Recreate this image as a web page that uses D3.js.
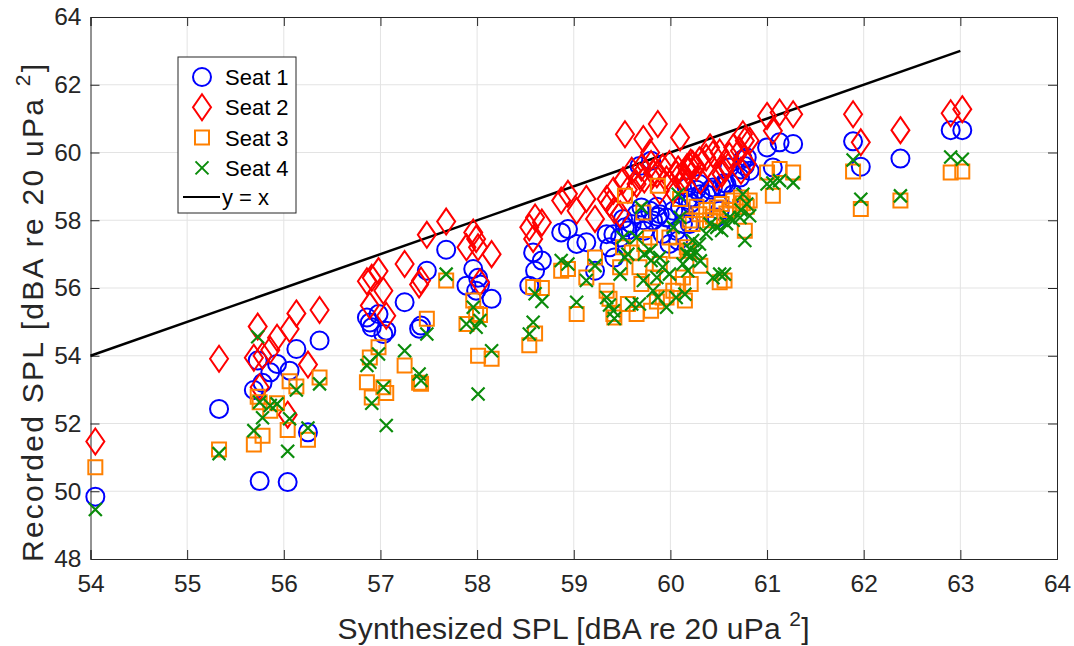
<!DOCTYPE html>
<html>
<head>
<meta charset="utf-8">
<script src="https://cdn.jsdelivr.net/npm/d3@7"></script>
<style>
  body { margin: 0; background: #fff; }
  text { font-family: "Liberation Sans", Arial, sans-serif; }
</style>
</head>
<body>
<svg id="chart" width="1074" height="646"></svg>
<script>
// synthesized SPL, one value per stimulus
var synthX = [
  54.05, 55.33, 55.69, 55.73, 55.75, 55.78, 55.86, 55.93, 56.04, 56.06, 56.13, 56.25, 56.37,
  56.86, 56.89, 56.91, 56.98, 57.03, 57.06, 57.25, 57.40, 57.42, 57.48, 57.68,
  57.89, 57.96, 57.99, 58.01, 58.03, 58.15, 58.54, 58.58, 58.60, 58.67, 58.87, 58.94,
  59.03, 59.13, 59.22, 59.34, 59.37, 59.41, 59.42, 59.48, 59.51, 59.53, 59.56, 59.60,
  59.65, 59.68, 59.70, 59.72, 59.73, 59.79, 59.80, 59.82, 59.86, 59.87, 59.89, 59.92,
  59.96, 59.99, 60.03, 60.06, 60.08, 60.10, 60.13, 60.15, 60.17, 60.18, 60.20, 60.21,
  60.23, 60.27, 60.30, 60.31, 60.37, 60.41, 60.44, 60.48, 60.51, 60.53, 60.56, 60.58,
  60.61, 60.65, 60.72, 60.73, 60.75, 60.77, 60.79, 60.82,
  61.00, 61.06, 61.13, 61.27, 61.89, 61.97, 62.38, 62.90, 63.02
];

var seat1 = [
  49.84, 52.43, 52.99, 53.86, 50.30, 53.20, 53.51, 53.76, 50.27, 53.56, 54.20, 51.74, 54.45,
  55.13, 54.98, 54.84, 55.23, 54.64, 54.74, 55.58, 54.80, 54.89, 56.51, 57.13,
  56.07, 56.56, 55.92, 56.30, 56.10, 55.68, 56.07, 57.05, 56.51, 56.81, 57.64, 57.74,
  57.30, 57.35, 56.51, 57.59, 57.20, 57.59, 56.90, 57.49, 58.04, 57.79, 57.70, 57.89,
  58.18, 59.60, 58.38, 58.00, 57.69, 58.28, 59.76, 57.99, 58.40, 58.10, 58.18, 57.59,
  58.08, 57.30, 58.28, 57.69, 57.40, 58.38, 57.89, 58.18, 58.97, 58.60, 57.89, 58.50,
  58.67, 58.90, 59.07, 58.77, 58.77, 58.90, 58.97, 58.08, 58.28, 59.00, 59.10, 59.07,
  59.56, 58.77, 59.26, 59.50, 59.80, 59.60, 59.85, 59.46,
  60.15, 59.56, 60.30, 60.25, 60.33, 59.58, 59.82, 60.66, 60.66
];

var seat2 = [
  51.47, 53.91, 53.94, 54.86, 53.07, 54.00, 54.17, 54.53, 52.26, 54.79, 55.25, 53.74, 55.35,
  56.20, 55.48, 56.30, 56.50, 55.92, 55.18, 56.71, 56.10, 56.22, 57.57, 57.96,
  57.20, 57.64, 57.45, 57.20, 56.17, 57.00, 57.79, 57.45, 58.08, 57.93, 58.58, 58.78,
  58.28, 58.63, 58.04, 58.63, 58.50, 58.87, 58.30, 58.18, 59.17, 60.54, 58.90, 59.46,
  59.07, 59.30, 59.56, 60.40, 59.20, 60.00, 59.66, 59.40, 59.36, 60.84, 58.87, 59.56,
  59.20, 59.66, 58.87, 59.36, 59.50, 60.44, 59.17, 59.30, 59.56, 59.45, 59.60, 59.70,
  59.66, 59.56, 59.76, 59.17, 59.85, 60.15, 59.95, 59.26, 60.00, 59.36, 59.50, 59.66,
  59.90, 60.15, 60.05, 59.46, 60.54, 60.35, 59.66, 60.35,
  61.08, 60.64, 61.18, 61.13, 61.13, 60.30, 60.66, 61.16, 61.28
];

var seat3 = [
  50.71, 51.23, 51.38, 52.79, 52.63, 51.64, 52.38, 52.60, 51.81, 53.25, 53.09, 51.52, 53.36,
  53.22, 53.95, 52.77, 54.25, 53.07, 52.90, 53.71, 53.20, 53.17, 55.09, 56.22,
  54.94, 55.63, 55.23, 54.00, 55.20, 53.91, 54.31, 56.03, 54.66, 56.00, 56.51, 56.56,
  55.23, 56.31, 56.90, 55.92, 55.68, 55.23, 55.13, 56.61, 57.20, 58.72, 55.53, 57.05,
  55.23, 56.61, 56.12, 58.23, 57.30, 57.49, 55.33, 56.31, 55.60, 59.02, 56.71, 55.72,
  55.72, 57.49, 55.92, 57.10, 56.12, 58.63, 56.31, 55.63, 57.20, 57.10, 57.99, 56.12,
  57.89, 58.40, 58.18, 56.66, 58.30, 58.00, 58.10, 58.38, 56.17, 58.48, 56.22, 58.20,
  58.30, 58.58, 58.40, 58.67, 58.50, 57.69, 58.40, 58.58,
  59.41, 58.72, 59.51, 59.41, 59.44, 58.33, 58.58, 59.41, 59.44
];

var seat4 = [
  49.46, 51.11, 51.79, 54.56, 52.63, 52.17, 52.53, 52.58, 51.18, 52.14, 52.99, 51.87, 53.17,
  53.71, 53.81, 52.60, 54.05, 53.07, 51.94, 54.15, 53.46, 53.27, 54.64, 56.41,
  54.94, 55.43, 54.84, 52.87, 55.04, 54.15, 54.64, 54.99, 55.83, 55.60, 56.81, 56.71,
  55.58, 56.22, 56.66, 55.72, 55.50, 55.33, 55.10, 56.41, 57.49, 56.90, 57.00, 55.53,
  57.49, 55.53, 58.38, 56.22, 57.00, 57.10, 56.81, 55.92, 56.31, 55.72, 56.90, 56.61,
  55.43, 56.41, 57.79, 55.72, 58.77, 58.08, 56.71, 55.82, 57.00, 56.51, 57.15, 56.95,
  57.40, 57.05, 57.30, 56.80, 57.60, 57.89, 56.30, 57.79, 56.41, 57.70, 56.41, 57.90,
  58.08, 58.00, 58.08, 58.30, 58.77, 57.40, 58.48, 58.13,
  59.07, 59.10, 59.17, 59.11, 59.78, 58.62, 58.72, 59.87, 59.80
];

var xTicks = [54, 55, 56, 57, 58, 59, 60, 61, 62, 63, 64];
var yTicks = [48, 50, 52, 54, 56, 58, 60, 62, 64];
var refLine = [54, 63];

var seatNames = ["Seat 1", "Seat 2", "Seat 3", "Seat 4"];
var seatColors = ["#0000ff", "#ff0000", "#ff8000", "#0b8c0b"];
var seatShapes = ["circle", "diamond", "square", "cross"];

function main() {
  var margin = { top: 17, right: 17, bottom: 87, left: 90.5 },
    width = 1074 - margin.left - margin.right,
    height = 646 - margin.top - margin.bottom;

  var svg = d3.select("#chart");
  var g = svg.append("g")
    .attr("transform", "translate(" + margin.left + "," + margin.top + ")");

  var xScale = d3.scaleLinear().domain([54, 64]).range([0, width]);
  var yScale = d3.scaleLinear().domain([48, 64]).range([height, 0]);

  // grid
  g.append("g").selectAll("line")
    .data(xTicks.slice(1, -1))
    .enter().append("line")
    .attr("x1", function (d) { return xScale(d); })
    .attr("x2", function (d) { return xScale(d); })
    .attr("y1", 0).attr("y2", height)
    .attr("stroke", "#e3e3e3").attr("stroke-width", 1);
  g.append("g").selectAll("line")
    .data(yTicks.slice(1, -1))
    .enter().append("line")
    .attr("y1", function (d) { return yScale(d); })
    .attr("y2", function (d) { return yScale(d); })
    .attr("x1", 0).attr("x2", width)
    .attr("stroke", "#e3e3e3").attr("stroke-width", 1);

  // axes, MATLAB style ticks inside
  var tickLen = 9;
  var axB = g.append("g").attr("transform", "translate(0," + height + ")")
    .call(d3.axisBottom(xScale).tickValues(xTicks).tickSize(-tickLen).tickPadding(16));
  var axT = g.append("g")
    .call(d3.axisTop(xScale).tickValues(xTicks).tickSize(-tickLen).tickFormat(""));
  var axL = g.append("g")
    .call(d3.axisLeft(yScale).tickValues(yTicks).tickSize(-tickLen).tickPadding(9));
  var axR = g.append("g").attr("transform", "translate(" + width + ",0)")
    .call(d3.axisRight(yScale).tickValues(yTicks).tickSize(-tickLen).tickFormat(""));
  [axB, axT, axL, axR].forEach(function (a) {
    a.selectAll("path").attr("stroke", "#262626").attr("stroke-width", 1);
    a.selectAll("line").attr("stroke", "#262626");
    a.selectAll("text").attr("fill", "#262626")
      .style("font-size", "24.5px");
  });

  // y = x line
  g.append("line")
    .attr("x1", xScale(refLine[0])).attr("y1", yScale(refLine[0]))
    .attr("x2", xScale(refLine[1])).attr("y2", yScale(refLine[1]))
    .attr("stroke", "#000").attr("stroke-width", 2.5);

  var seats = [seat1, seat2, seat3, seat4];

  function markerPath(shape) {
    if (shape == "diamond") return "M0,-13L9,0L0,13L-9,0Z";
    if (shape == "square") return "M-7,-7L7,-7L7,7L-7,7Z";
    if (shape == "cross") return "M-6.5,-6.5L6.5,6.5M-6.5,6.5L6.5,-6.5";
    return d3.symbol().type(d3.symbolCircle).size(Math.PI * 81)();
  }

  seats.forEach(function (vals, si) {
    g.append("g").selectAll("path")
      .data(vals)
      .enter().append("path")
      .attr("d", markerPath(seatShapes[si]))
      .attr("transform", function (d, i) {
        return "translate(" + xScale(synthX[i]) + "," + yScale(d) + ")";
      })
      .attr("fill", "none")
      .attr("stroke", seatColors[si])
      .attr("stroke-width", si == 3 ? 2.2 : 2);
  });

  // legend
  var lg = svg.append("g").attr("transform", "translate(178,57)");
  lg.append("rect")
    .attr("width", 118).attr("height", 156)
    .attr("fill", "#fff").attr("stroke", "#262626").attr("stroke-width", 1);
  seatNames.forEach(function (name, si) {
    var yy = 20 + si * 30.3;
    lg.append("path")
      .attr("d", markerPath(seatShapes[si]))
      .attr("transform", "translate(24," + yy + ")")
      .attr("fill", "none")
      .attr("stroke", seatColors[si])
      .attr("stroke-width", 2);
    lg.append("text")
      .attr("x", 47).attr("y", yy + 8)
      .style("font-size", "22px")
      .attr("fill", "#000")
      .text(name);
  });
  lg.append("line")
    .attr("x1", 5).attr("x2", 42).attr("y1", 140).attr("y2", 140)
    .attr("stroke", "#000").attr("stroke-width", 2);
  lg.append("text")
    .attr("x", 44).attr("y", 148)
    .style("font-size", "22px")
    .attr("fill", "#000")
    .text("y = x");

  // axis labels
  var xl = svg.append("text")
    .attr("x", 573.5).attr("y", 639)
    .attr("text-anchor", "middle")
    .attr("textLength", 472)
    .attr("lengthAdjust", "spacing")
    .style("font-size", "30px")
    .attr("fill", "#262626");
  xl.append("tspan").text("Synthesized SPL [dBA re 20 uPa ");
  xl.append("tspan").attr("dy", -13).style("font-size", "21px").text("2");
  xl.append("tspan").attr("dy", 13).text("]");

  var yl = svg.append("text")
    .attr("transform", "translate(43,313) rotate(-90)")
    .attr("text-anchor", "middle")
    .attr("textLength", 498)
    .attr("lengthAdjust", "spacing")
    .style("font-size", "30px")
    .attr("fill", "#262626");
  yl.append("tspan").text("Recorded SPL [dBA re 20 uPa ");
  yl.append("tspan").attr("dy", -13).style("font-size", "21px").text("2");
  yl.append("tspan").attr("dy", 13).text("]");
}

main();
</script>
</body>
</html>
